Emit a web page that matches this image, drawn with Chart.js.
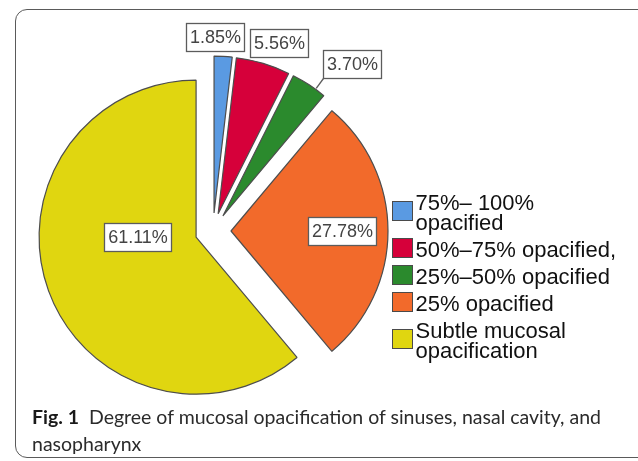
<!DOCTYPE html>
<html>
<head>
<meta charset="utf-8">
<script src="https://cdn.jsdelivr.net/npm/chart.js@4.4.1/dist/chart.umd.min.js"></script>
<style>
  html, body { margin: 0; padding: 0; background: #fff; }
  body { width: 638px; height: 461px; position: relative; overflow: hidden; }
  #card {
    position: absolute; left: 15px; top: 9px; width: 660px; height: 449px;
    border: 1.5px solid #5a5a5a; border-radius: 12px; box-sizing: border-box;
  }
  #chart { position: absolute; left: 0; top: 0; }
  #caption {
    position: absolute; left: 32px; top: 403px; width: 600px;
    font-family: Lato, "Open Sans", sans-serif; font-size: 19.5px; line-height: 27px;
    color: #2b2b2b;
  }
  #caption b { font-weight: 700; color: #1a1a1a; margin-right: 10px; }
</style>
</head>
<body>
<div id="card"></div>
<canvas id="chart" width="638" height="461"></canvas>
<div id="caption"><b>Fig. 1</b>Degree of mucosal opacification of sinuses, nasal cavity, and<br>nasopharynx</div>
<script>
const categories = [
  ["75%– 100%", "opacified"],
  ["50%–75% opacified,"],
  ["25%–50% opacified"],
  ["25% opacified"],
  ["Subtle mucosal", "opacification"],
];
const percentages = [1.85, 5.56, 3.70, 27.78, 61.11];
const colours = ["#5a9ae2", "#d6003a", "#2b8a2d", "#f26a2b", "#e0d610"];

// draw every slice pulled out by the same distance (SPSS style explode)
const explodeSlices = {
  id: "explodeSlices",
  beforeDatasetDraw(chart, args, opts) {
    const ctx = chart.ctx;
    args.meta.data.forEach((arc) => {
      const mid = (arc.startAngle + arc.endAngle) / 2;
      ctx.save();
      ctx.translate(Math.cos(mid) * opts.distance, Math.sin(mid) * opts.distance);
      arc.draw(ctx, chart.chartArea);
      ctx.restore();
    });
    return false;
  },
};

// boxed percentage labels, placed relative to each exploded slice
const sliceLabels = {
  id: "sliceLabels",
  afterDatasetsDraw(chart, args, opts) {
    const ctx = chart.ctx;
    const meta = chart.getDatasetMeta(0);
    const values = chart.data.datasets[0].data;
    const off = chart.options.plugins.explodeSlices.distance;
    ctx.save();
    ctx.font = opts.font;
    meta.data.forEach((arc, i) => {
      const p = arc.getProps(["x", "y", "startAngle", "endAngle", "outerRadius"]);
      const mid = (p.startAngle + p.endAngle) / 2;
      const ax = p.x + Math.cos(mid) * off;
      const ay = p.y + Math.sin(mid) * off;
      const place = opts.place[i];
      const a = mid + place.da * Math.PI / 180;
      const cx = ax + Math.cos(a) * place.r * p.outerRadius;
      const cy = ay + Math.sin(a) * place.r * p.outerRadius;
      const text = values[i].toFixed(2) + "%";
      const w = Math.round(ctx.measureText(text).width + 7);
      const h = 28;
      const left = Math.round(cx - w / 2) + 0.5;
      const top = Math.round(cy - h / 2) + 0.5;
      ctx.strokeStyle = "#5c5c5c";
      ctx.lineWidth = 1.3;
      if (place.leader) {
        const bx = left, by = top + h;
        let la = Math.atan2(by - ay, bx - ax);
        la = Math.min(Math.max(la, p.startAngle), p.endAngle);
        ctx.beginPath();
        ctx.moveTo(ax + Math.cos(la) * (p.outerRadius + 1), ay + Math.sin(la) * (p.outerRadius + 1));
        ctx.lineTo(bx, by);
        ctx.stroke();
      }
      ctx.fillStyle = "#fff";
      ctx.fillRect(left, top, w, h);
      ctx.strokeRect(left, top, w, h);
      ctx.fillStyle = "#444";
      ctx.textAlign = "center";
      ctx.textBaseline = "middle";
      ctx.fillText(text, left + w / 2, top + h / 2 + 1);
    });
    ctx.restore();
  },
};

// legend to the right of the pie, multi-line labels
const sideLegend = {
  id: "sideLegend",
  afterDraw(chart, args, opts) {
    const ctx = chart.ctx;
    const arc = chart.getDatasetMeta(0).data[0];
    const colors = chart.data.datasets[0].backgroundColor;
    const x = Math.round(arc.x + arc.outerRadius + opts.gap) + 0.5;
    let y = opts.firstBaseline;
    ctx.save();
    ctx.font = opts.font;
    ctx.textBaseline = "alphabetic";
    ctx.textAlign = "left";
    chart.data.labels.forEach((lines, i) => {
      const last = y + (lines.length - 1) * opts.lineStep;
      const boxTop = Math.round((y + last) / 2 - 9 - 10) + 0.5;
      ctx.fillStyle = colors[i];
      ctx.fillRect(x, boxTop, 20, 19);
      ctx.strokeStyle = "#4a4a4a";
      ctx.lineWidth = 1;
      ctx.strokeRect(x, boxTop, 20, 19);
      ctx.fillStyle = "#111";
      lines.forEach((t, k) => ctx.fillText(t, x + 23, y + k * opts.lineStep));
      y = last + opts.itemStep;
    });
    ctx.restore();
  },
};

new Chart(document.getElementById("chart"), {
  type: "pie",
  data: {
    labels: categories,
    datasets: [{
      data: percentages,
      backgroundColor: colours,
      borderColor: "#4d4d4d",
      borderWidth: 1.2,
    }],
  },
  options: {
    responsive: false,
    animation: false,
    radius: 157,
    layout: { padding: { left: 0, right: 212, top: 1, bottom: 0 } },
    plugins: {
      legend: { display: false },
      tooltip: { enabled: false },
      explodeSlices: { distance: 18 },
      sliceLabels: {
        font: "18px 'Liberation Sans', Arial, sans-serif",
        place: [
          { r: 1.12, da: -3.1 },
          { r: 1.153, da: 3.1 },
          { r: 1.272, da: 7.1, leader: true },
          { r: 0.705, da: 0 },
          { r: 0.373, da: 20 },
        ],
      },
      sideLegend: {
        font: "22px 'Liberation Sans', Arial, sans-serif",
        gap: 22,
        firstBaseline: 210,
        lineStep: 20,
        itemStep: 27,
      },
    },
  },
  plugins: [explodeSlices, sliceLabels, sideLegend],
});
</script>
</body>
</html>
